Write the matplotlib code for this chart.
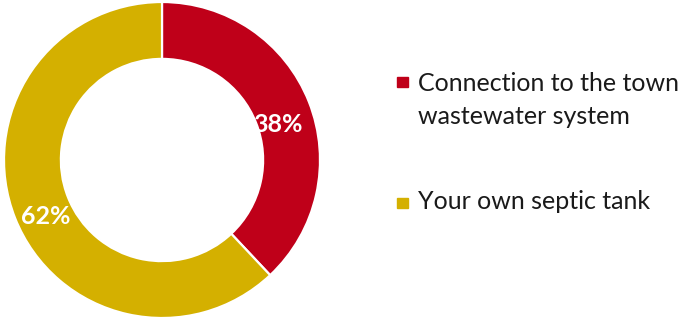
import matplotlib.pyplot as plt
from matplotlib.patches import Rectangle

categories = ['Connection to the town\nwastewater system', 'Your own septic tank']
shares = [38, 62]
colors = ['#BF0019', '#D4B000']

W, H = 688, 321
fig = plt.figure(figsize=(W / 100, H / 100), dpi=100)

# donut on the left, centred at (162, 160) px with outer radius ~158 px
cx, cy, half = 162, 160, 160
ax = fig.add_axes([(cx - half) / W, (H - cy - half) / H, 2 * half / W, 2 * half / H])
wedges, texts, autotexts = ax.pie(
    shares, colors=colors, startangle=90, counterclock=False,
    autopct='%d%%', pctdistance=0.79,
    wedgeprops=dict(width=0.36, edgecolor='white', linewidth=1.6),
    textprops=dict(color='white', fontsize=18, fontweight='bold', family='Lato'))
# labels sit a little below the wedge midline
for t in autotexts:
    x, y = t.get_position()
    t.set_position((x, y - 0.065))
lim = half / 158
ax.set_xlim(-lim, lim)
ax.set_ylim(-lim, lim)
ax.set_aspect('equal')
ax.axis('off')

# legend drawn by hand so the swatch lines up with the first text line
entries = [(77, 91), (198, 209)]
line_gap = 33
for (sq_top, baseline), label, col in zip(entries, categories, colors):
    fig.patches.append(Rectangle((397 / W, 1 - (sq_top + 10) / H), 11 / W, 10 / H,
                                 transform=fig.transFigure, color=col))
    for i, line in enumerate(label.split('\n')):
        fig.text(418 / W, 1 - (baseline + i * line_gap) / H, line,
                 va='baseline', ha='left', fontsize=18, family='Lato',
                 color='#1a1a1a', transform=fig.transFigure)

fig.savefig('out.png', dpi=100)
